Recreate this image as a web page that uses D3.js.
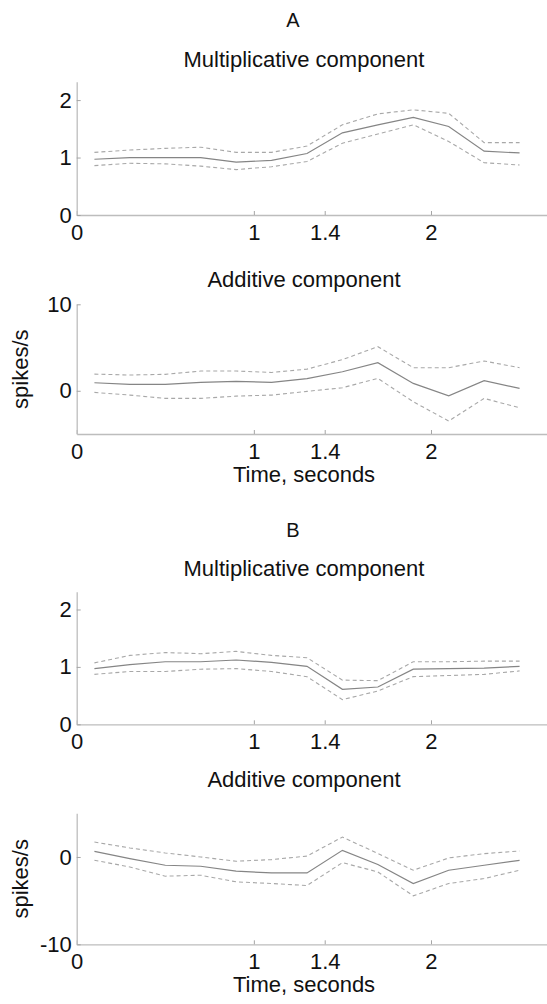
<!DOCTYPE html>
<html>
<head>
<meta charset="utf-8">
<script src="https://cdn.jsdelivr.net/npm/d3@7"></script>
<style>
  body { margin: 0; background: #fff; }
  svg text { font-family: "Liberation Sans", Arial, sans-serif; fill: #111; }
</style>
</head>
<body>
<div id="plot-container"></div>
<script>
// time points (seconds)
const timePoints = [0.1, 0.3, 0.5, 0.7, 0.9, 1.1, 1.3, 1.5, 1.7, 1.9, 2.1, 2.3, 2.5];
const xTicks = [0, 1, 1.4, 2];

// A: multiplicative component
const aMultMean  = [0.97, 1.00, 1.00, 1.00, 0.92, 0.95, 1.07, 1.43, 1.57, 1.70, 1.54, 1.11, 1.08];
const aMultUpper = [1.09, 1.13, 1.16, 1.18, 1.09, 1.09, 1.20, 1.57, 1.76, 1.83, 1.77, 1.26, 1.26];
const aMultLower = [0.86, 0.90, 0.89, 0.85, 0.79, 0.84, 0.93, 1.25, 1.41, 1.57, 1.28, 0.91, 0.87];

// A: additive component (spikes/s)
const aAddMean  = [0.93, 0.74, 0.74, 0.97, 1.09, 0.97, 1.40, 2.20, 3.24, 0.85, -0.58, 1.16, 0.27];
const aAddUpper = [1.93, 1.82, 1.90, 2.28, 2.28, 2.12, 2.50, 3.60, 5.10, 2.67, 2.67, 3.44, 2.67];
const aAddLower = [-0.19, -0.50, -0.88, -0.88, -0.62, -0.50, -0.07, 0.35, 1.43, -1.27, -3.50, -0.88, -1.97];

// B: multiplicative component
const bMultMean  = [0.97, 1.04, 1.09, 1.09, 1.12, 1.08, 1.01, 0.61, 0.65, 0.96, 0.97, 0.98, 1.01];
const bMultUpper = [1.07, 1.20, 1.25, 1.23, 1.27, 1.20, 1.16, 0.77, 0.76, 1.09, 1.09, 1.10, 1.10];
const bMultLower = [0.87, 0.92, 0.92, 0.96, 0.97, 0.92, 0.83, 0.43, 0.58, 0.83, 0.85, 0.87, 0.93];

// B: additive component (spikes/s)
const bAddMean  = [0.65, -0.19, -0.95, -1.06, -1.63, -1.83, -1.83, 0.76, -0.87, -3.04, -1.52, -0.95, -0.38];
const bAddUpper = [1.71, 1.03, 0.46, 0.00, -0.49, -0.30, 0.10, 2.28, 0.40, -1.52, -0.11, 0.38, 0.68];
const bAddLower = [-0.38, -1.14, -2.20, -2.09, -2.85, -3.04, -3.27, -0.65, -1.71, -4.45, -3.04, -2.47, -1.52];

const W = 547, H = 1004;
const fontSize = 22;
const titleX = 304;

const svg = d3.select("#plot-container")
  .append("svg")
    .attr("width", W)
    .attr("height", H);

const x = d3.scaleLinear().domain([0, 2.7]).range([76.7, 555]);

// one entry per axes
const panels = [
  {mean: aMultMean, upper: aMultUpper, lower: aMultLower, domain: [0, 2.32], ticks: [0, 1, 2],
   top: 81.7, bottom: 215, title: "Multiplicative component", titleY: 67, ylabel: false, xlabel: false},
  {mean: aAddMean, upper: aAddUpper, lower: aAddLower, domain: [-5, 10], ticks: [0, 10],
   top: 304.3, bottom: 434, title: "Additive component", titleY: 287, ylabel: true, xlabel: true},
  {mean: bMultMean, upper: bMultUpper, lower: bMultLower, domain: [0, 2.31], ticks: [0, 1, 2],
   top: 591.7, bottom: 724.3, title: "Multiplicative component", titleY: 576, ylabel: false, xlabel: false},
  {mean: bAddMean, upper: bAddUpper, lower: bAddLower, domain: [-10, 5], ticks: [-10, 0],
   top: 813.3, bottom: 944.3, title: "Additive component", titleY: 787, ylabel: true, xlabel: true}
];

// panel letters
svg.append("text").attr("x", 293).attr("y", 27).attr("text-anchor", "middle")
  .style("font-size", "20px").text("A");
svg.append("text").attr("x", 293).attr("y", 537).attr("text-anchor", "middle")
  .style("font-size", "20px").text("B");

const fmt = d => String(d); // plain hyphen for negatives, like the original

panels.forEach(p => {
  const y = d3.scaleLinear().domain(p.domain).range([p.bottom, p.top]);
  const g = svg.append("g");

  // x axis
  const gx = g.append("g")
    .attr("transform", `translate(0,${p.bottom})`)
    .call(d3.axisBottom(x).tickValues(xTicks).tickSize(-4).tickSizeOuter(0).tickPadding(9)
      .tickFormat(fmt));

  // y axis
  const gy = g.append("g")
    .attr("transform", `translate(${x(0)},0)`)
    .call(d3.axisLeft(y).tickValues(p.ticks).tickSize(-4).tickSizeOuter(0).tickPadding(5)
      .tickFormat(fmt));

  [gx, gy].forEach(a => {
    a.select(".domain").attr("stroke", "#bdbdbd").attr("stroke-width", 1.3);
    a.selectAll(".tick line").attr("stroke", "#a5a5a5");
    a.selectAll(".tick text").style("font-size", fontSize + "px")
      .style("font-family", "'Liberation Sans', Arial, sans-serif").attr("fill", "#111");
  });

  const line = d3.line()
    .x((d, i) => x(timePoints[i]))
    .y(d => y(d));

  g.append("path").datum(p.upper).attr("d", line)
    .attr("fill", "none").attr("stroke", "#a8a8a8").attr("stroke-width", 1.1)
    .attr("stroke-dasharray", "4,3");
  g.append("path").datum(p.lower).attr("d", line)
    .attr("fill", "none").attr("stroke", "#a8a8a8").attr("stroke-width", 1.1)
    .attr("stroke-dasharray", "4,3");
  g.append("path").datum(p.mean).attr("d", line)
    .attr("fill", "none").attr("stroke", "#858585").attr("stroke-width", 1.2);

  g.append("text")
    .attr("x", titleX).attr("y", p.titleY)
    .attr("text-anchor", "middle")
    .style("font-size", fontSize + "px")
    .text(p.title);

  if (p.ylabel) {
    g.append("text")
      .attr("transform", `translate(28,${(p.top + p.bottom) / 2}) rotate(-90)`)
      .attr("text-anchor", "middle")
      .style("font-size", fontSize + "px")
      .text("spikes/s");
  }
  if (p.xlabel) {
    g.append("text")
      .attr("x", titleX).attr("y", p.bottom + 48)
      .attr("text-anchor", "middle")
      .style("font-size", fontSize + "px")
      .text("Time, seconds");
  }
});
</script>
</body>
</html>
